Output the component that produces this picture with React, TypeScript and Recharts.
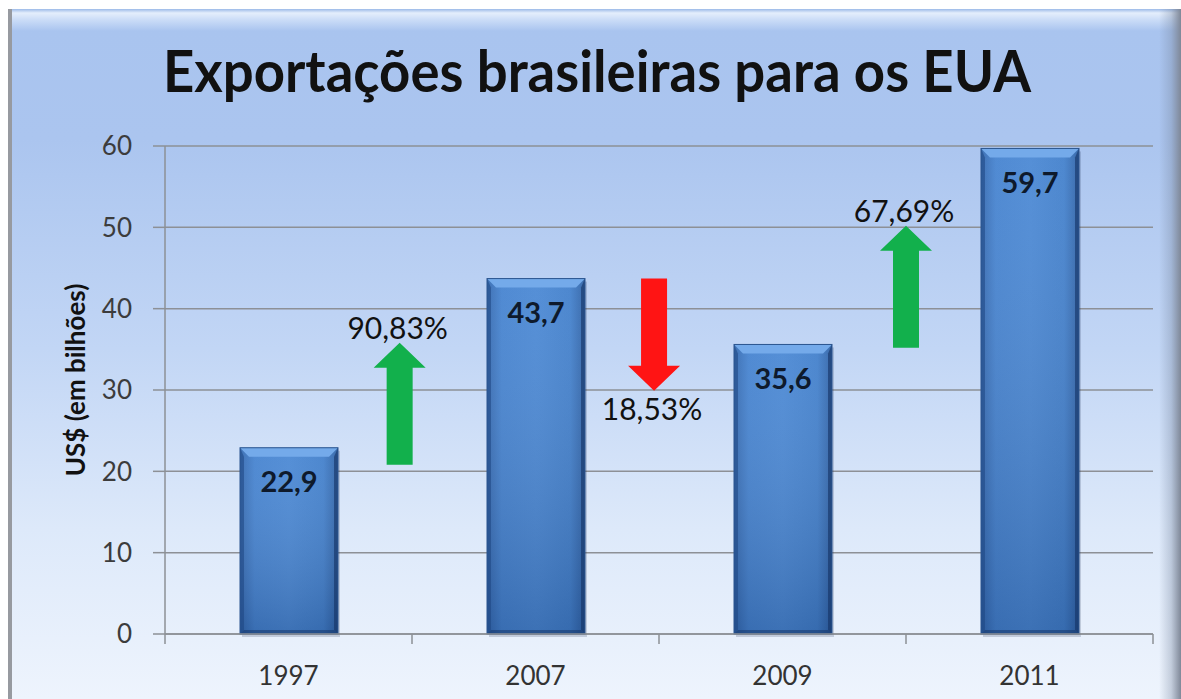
import React from "react";
import {
  Bar,
  CartesianGrid,
  ComposedChart,
  LabelList,
  ReferenceLine,
  XAxis,
  YAxis,
} from "recharts";

const years = ["1997", "2007", "2009", "2011"];
const exportsUsd = [22.9, 43.7, 35.6, 59.7];
const yTicks = [0, 10, 20, 30, 40, 50, 60];
const boundaryTicks = [0, 1, 2, 3, 4];

// change arrows between the bars (x in band units, y in US$ bn)
const arrowPos = [0.95, 1.98, 3.0];
const arrowFrom = [20.8, 43.7, 35.2];
const arrowTo = [35.8, 29.9, 50.2];
const arrowLabels = ["90,83%", "18,53%", "67,69%"];
const arrowColors = ["#12b04c", "#ff1414", "#12b04c"];

// slot = band centre in band units, used by the hidden numeric axis
const data = years.map((year, i) => ({ year, value: exportsUsd[i], slot: i + 0.5 }));

const W = 1181;
const H = 699;
const FONT = "Lato, 'Open Sans', sans-serif";
const AXIS_GREY = "#8d9096";

const fmtComma = (v: number) => v.toFixed(1).replace(".", ",");

function BevelBar(props: any) {
  const { x, y, width, height } = props;
  if (!height || height <= 0) return null;
  const b = 9;
  const e = 4;
  return (
    <g>
      <rect x={x + 2} y={y + 3} width={width} height={height} fill="rgba(20,40,80,0.18)" />
      <rect x={x} y={y} width={width} height={height} fill="url(#barBody)" />
      <rect x={x} y={y} width={width} height={height} fill="url(#barShade)" />
      <polygon
        points={`${x},${y} ${x + width},${y} ${x + width - b},${y + b} ${x + b},${y + b}`}
        fill="#74aaea"
      />
      <polygon
        points={`${x},${y} ${x + e},${y + b} ${x + e},${y + height - e} ${x},${y + height}`}
        fill="rgba(30,70,130,0.55)"
      />
      <polygon
        points={`${x + width},${y} ${x + width - e},${y + b} ${x + width - e},${y + height - e} ${x + width},${y + height}`}
        fill="rgba(20,50,100,0.6)"
      />
      <polygon
        points={`${x},${y + height} ${x + e},${y + height - e} ${x + width - e},${y + height - e} ${x + width},${y + height}`}
        fill="rgba(20,50,100,0.5)"
      />
      <rect x={x} y={y} width={width} height={height} fill="none" stroke="#2b558f" strokeWidth={1} />
    </g>
  );
}

function makeArrow(i: number) {
  return (p: any) => {
    const { x1, y1, y2 } = p;
    const cx = x1;
    const dir = y2 > y1 ? 1 : -1;
    const sw = 13;
    const hw = 26;
    const hl = 25;
    const hb = y2 - dir * hl;
    const pts = [
      [cx - sw, y1],
      [cx - sw, hb],
      [cx - hw, hb],
      [cx, y2],
      [cx + hw, hb],
      [cx + sw, hb],
      [cx + sw, y1],
    ]
      .map((q) => q.join(","))
      .join(" ");
    const ty = dir < 0 ? y2 - 4 : y2 + 29;
    return (
      <g>
        <polygon points={pts} fill={arrowColors[i]} />
        <text
          x={cx - 2}
          y={ty}
          textAnchor="middle"
          fontSize={30}
          fill="#111"
          fontFamily={FONT}
        >
          {arrowLabels[i]}
        </text>
      </g>
    );
  };
}

// short tick below the x axis at a category boundary
const boundaryTick = (p: any) => {
  const yb = Math.max(p.y1, p.y2);
  return <line x1={p.x1} x2={p.x1} y1={yb} y2={yb + 10} stroke={AXIS_GREY} strokeWidth={1.5} />;
};

export default function App() {
  return (
    <div
      style={{
        position: "absolute",
        left: 0,
        top: 0,
        width: W,
        height: H,
        background: "#fff",
        overflow: "hidden",
        fontFamily: FONT,
      }}
    >
      <div
        style={{
          position: "absolute",
          left: 8,
          top: 9,
          width: W - 8,
          height: H - 9,
          borderLeft: "4px solid #979aa0",
          boxSizing: "border-box",
          background:
            "linear-gradient(180deg, #9cbae8 0px, #e4eefc 4px, #cadcf7 11px, #a9c4ef 22px, #abc5ef 130px, #c2d6f5 340px, #dde9fa 520px, #eef4fd 690px)",
        }}
      />
      <div
        style={{
          position: "absolute",
          right: 0,
          top: 9,
          width: 22,
          height: H - 9,
          background: "linear-gradient(90deg, rgba(120,135,160,0) 0%, rgba(120,135,160,0.35) 55%, #7f8898 100%)",
        }}
      />
      <svg
        width={W}
        height={130}
        style={{ position: "absolute", left: 0, top: 0 }}
      >
        <text
          x={597}
          y={92}
          textAnchor="middle"
          fontSize={58}
          fontWeight={700}
          fill="#111"
          textLength={868}
          lengthAdjust="spacingAndGlyphs"
          fontFamily={FONT}
        >
          Exportações brasileiras para os EUA
        </text>
      </svg>
      <div style={{ position: "absolute", left: 0, top: 0 }}>
        <ComposedChart
          width={W}
          height={H}
          data={data}
          margin={{ top: 146, right: 28, bottom: 0, left: 0 }}
        >
          <defs>
            <linearGradient id="barBody" x1="0" y1="0" x2="1" y2="0">
              <stop offset="0%" stopColor="#3469b0" />
              <stop offset="15%" stopColor="#4583d0" />
              <stop offset="50%" stopColor="#4a88d4" />
              <stop offset="85%" stopColor="#4280cc" />
              <stop offset="100%" stopColor="#2f62a6" />
            </linearGradient>
            <linearGradient id="barShade" x1="0" y1="0" x2="0" y2="1">
              <stop offset="0%" stopColor="rgba(255,255,255,0.06)" />
              <stop offset="100%" stopColor="rgba(10,30,70,0.22)" />
            </linearGradient>
          </defs>
          <CartesianGrid vertical={false} stroke={AXIS_GREY} strokeWidth={1.5} xAxisId="cat" />
          <XAxis
            xAxisId="cat"
            dataKey="year"
            height={65}
            axisLine={{ stroke: AXIS_GREY, strokeWidth: 1.5 }}
            tickLine={false}
            tickSize={0}
            tickMargin={33}
            tick={{ fill: "#333", fontSize: 26 }}
          />
          <XAxis
            xAxisId="pos"
            dataKey="slot"
            type="number"
            domain={[0, 4]}
            hide
            allowDataOverflow
          />
          <YAxis
            domain={[0, 60]}
            ticks={yTicks}
            width={165}
            tickSize={12}
            tickMargin={21}
            stroke={AXIS_GREY}
            strokeWidth={1.5}
            tick={{ fill: "#3c3c3c", fontSize: 26 }}
            label={{
              content: ({ viewBox }: any) => {
                const cx = viewBox.x + 75;
                const cy = viewBox.y + viewBox.height / 2 - 10;
                return (
                  <text
                    x={cx}
                    y={cy}
                    transform={`rotate(-90 ${cx} ${cy})`}
                    textAnchor="middle"
                    dominantBaseline="central"
                    fontSize={26}
                    fontWeight={700}
                    fill="#111"
                    fontFamily={FONT}
                  >
                    US$ (em bilhões)
                  </text>
                );
              },
            }}
          />
          <Bar
            xAxisId="cat"
            dataKey="value"
            barSize={98}
            shape={<BevelBar />}
            isAnimationActive={false}
          >
            <LabelList
              dataKey="value"
              position="insideTop"
              offset={24}
              formatter={(v: any) => fmtComma(Number(v))}
              fill="#0e1a2c"
              fontSize={29}
              fontWeight={700}
            />
          </Bar>
          {boundaryTicks.map((b) => (
            <ReferenceLine
              key={`t${b}`}
              xAxisId="pos"
              x={b}
              shape={boundaryTick}
              ifOverflow="visible"
            />
          ))}
          {arrowPos.map((px, i) => (
            <ReferenceLine
              key={i}
              xAxisId="pos"
              segment={[
                { x: px, y: arrowFrom[i] },
                { x: px, y: arrowTo[i] },
              ]}
              shape={makeArrow(i)}
              ifOverflow="visible"
            />
          ))}
        </ComposedChart>
      </div>
    </div>
  );
}
